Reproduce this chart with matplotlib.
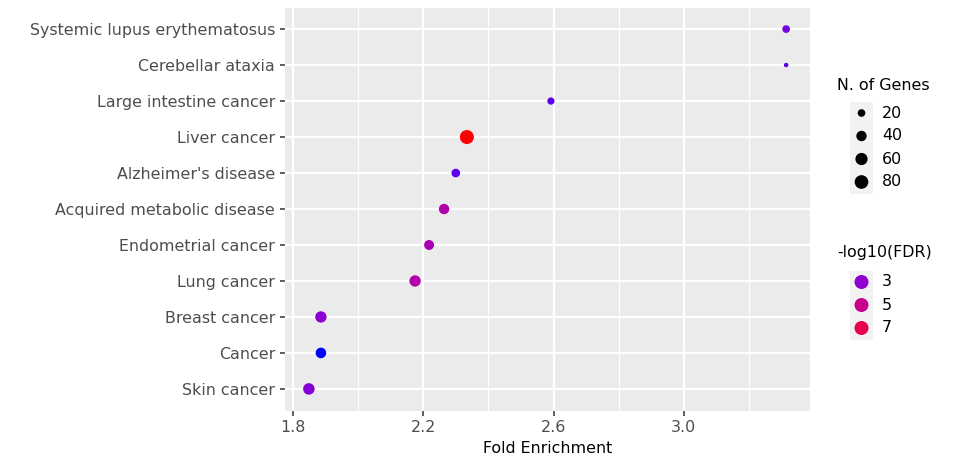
import numpy as np
import matplotlib.pyplot as plt
from matplotlib.patches import Rectangle

pathways = ["Systemic lupus erythematosus", "Cerebellar ataxia", "Large intestine cancer",
            "Liver cancer", "Alzheimer's disease", "Acquired metabolic disease",
            "Endometrial cancer", "Lung cancer", "Breast cancer", "Cancer", "Skin cancer"]
fold_enrichment = [3.314, 3.314, 2.592, 2.334, 2.300, 2.264, 2.218, 2.175, 1.886, 1.886, 1.849]
n_genes = [20, 12, 18, 85, 26, 40, 36, 50, 50, 42, 52]
neg_log_fdr = [2.4, 2.1, 2.1, 8.8, 2.1, 4.0, 3.8, 4.1, 2.9, 1.5, 2.8]

size_breaks = [20, 40, 60, 80]
fdr_breaks = [3, 5, 7]
x_ticks = [1.8, 2.2, 2.6, 3.0]


# blue -> red gradient interpolated in CIELAB, like ggplot's scale_colour_gradient
def srgb_to_lab(rgb):
    c = np.asarray(rgb, dtype=float)
    lin = np.where(c <= 0.04045, c / 12.92, ((c + 0.055) / 1.055) ** 2.4)
    m = np.array([[0.4124, 0.3576, 0.1805],
                  [0.2126, 0.7152, 0.0722],
                  [0.0193, 0.1192, 0.9505]])
    xyz = m @ lin / np.array([0.95047, 1.0, 1.08883])
    f = np.where(xyz > 0.008856, np.cbrt(xyz), 7.787 * xyz + 16 / 116)
    return np.array([116 * f[1] - 16, 500 * (f[0] - f[1]), 200 * (f[1] - f[2])])


def lab_to_srgb(lab):
    L, a, b = lab
    fy = (L + 16) / 116
    f = np.array([fy + a / 500, fy, fy - b / 200])
    xyz = np.where(f ** 3 > 0.008856, f ** 3, (f - 16 / 116) / 7.787)
    xyz = xyz * np.array([0.95047, 1.0, 1.08883])
    minv = np.array([[3.2406, -1.5372, -0.4986],
                     [-0.9689, 1.8758, 0.0415],
                     [0.0557, -0.2040, 1.0570]])
    lin = minv @ xyz
    c = np.where(lin <= 0.0031308, 12.92 * lin, 1.055 * np.clip(lin, 0, None) ** (1 / 2.4) - 0.055)
    return tuple(np.clip(c, 0, 1))


lab_lo = srgb_to_lab([0, 0, 1])
lab_hi = srgb_to_lab([1, 0, 0])
fdr_min, fdr_max = min(neg_log_fdr), max(neg_log_fdr)


def fdr_colour(v):
    t = (v - fdr_min) / (fdr_max - fdr_min)
    return lab_to_srgb(lab_lo + t * (lab_hi - lab_lo))


g_min, g_max = min(n_genes), max(n_genes)


def gene_size(v):
    # area-style scale: diameter grows with sqrt of the rescaled value
    d_px = 4.5 + 9.5 * np.sqrt((v - g_min) / (g_max - g_min))
    return (d_px * 72 / 100) ** 2


fig = plt.figure(figsize=(9.69, 4.59), dpi=100)
ax = fig.add_axes([285 / 969, 1 - 410.5 / 459, 525 / 969, 403 / 459])
ax.set_facecolor("#EBEBEB")

ypos = np.arange(len(pathways))[::-1] + 1
cols = [fdr_colour(v) for v in neg_log_fdr]
sizes = [gene_size(v) for v in n_genes]
ax.scatter(fold_enrichment, ypos, s=sizes, c=cols, linewidths=0, zorder=3)

rng = max(fold_enrichment) - min(fold_enrichment)
ax.set_xlim(min(fold_enrichment) - 0.05 * rng, max(fold_enrichment) + 0.05 * rng)
ax.set_ylim(0.4, len(pathways) + 0.6)

ax.set_xticks(x_ticks)
ax.set_xticks([x + 0.2 for x in x_ticks], minor=True)
ax.set_xticklabels([f"{x:.1f}" for x in x_ticks])
ax.set_yticks(ypos)
ax.set_yticklabels(pathways)
ax.grid(which="major", color="white", linewidth=1.6, zorder=0)
ax.grid(which="minor", axis="x", color="white", linewidth=0.8, zorder=0)
ax.set_axisbelow(True)
for sp in ax.spines.values():
    sp.set_visible(False)
ax.tick_params(which="major", length=3.6, width=1.1, color="#333333",
               labelcolor="#4D4D4D", labelsize=11.4, pad=3.6)
ax.tick_params(which="minor", length=0)
ax.set_xlabel("Fold Enrichment", fontsize=11.4, labelpad=4)

# legends drawn in a pixel-space overlay
lax = fig.add_axes([0, 0, 1, 1])
lax.set_xlim(0, 969)
lax.set_ylim(459, 0)
lax.axis("off")

lax.text(837, 86, "N. of Genes", fontsize=11.4, va="center", ha="left")
size_y = [113, 136, 159, 182]
lax.add_patch(Rectangle((850, 101.5), 23, 92, facecolor="#F2F2F2", edgecolor="none"))
lax.scatter([861.5] * len(size_breaks), size_y, s=[gene_size(v) for v in size_breaks],
            c="black", linewidths=0)
for v, y in zip(size_breaks, size_y):
    lax.text(882, y, str(v), fontsize=11.4, va="center", ha="left")

lax.text(837, 253, "-log10(FDR)", fontsize=11.4, va="center", ha="left")
fdr_y = [282, 305, 328]
lax.add_patch(Rectangle((850, 270.5), 23, 69, facecolor="#F2F2F2", edgecolor="none"))
lax.scatter([861.5] * len(fdr_breaks), fdr_y, s=(14 * 72 / 100) ** 2,
            c=[fdr_colour(v) for v in fdr_breaks], linewidths=0)
for v, y in zip(fdr_breaks, fdr_y):
    lax.text(882, y, str(v), fontsize=11.4, va="center", ha="left")

fig.savefig("out.png", dpi=100)
